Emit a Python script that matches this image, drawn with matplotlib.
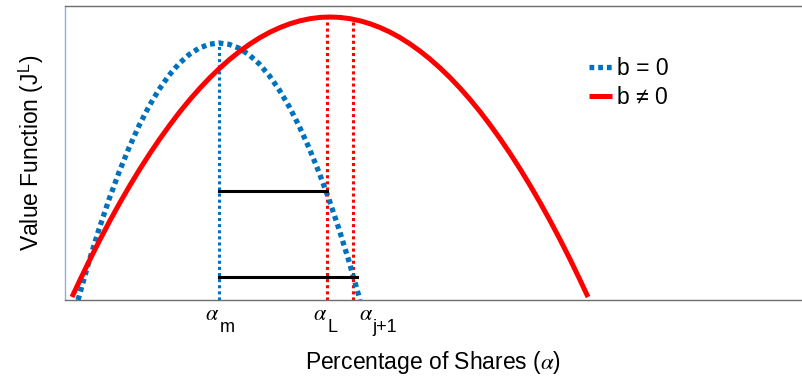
import matplotlib
matplotlib.use('Agg')
import matplotlib.pyplot as plt

plt.rcParams['font.family'] = ['Liberation Sans', 'DejaVu Sans']
plt.rcParams['mathtext.fontset'] = 'stix'

# value function, b = 0 (blue dotted)
alpha_b0 = [0.0177, 0.0326, 0.0462, 0.0598, 0.0734, 0.0870, 0.1005, 0.1141, 0.1277, 0.1413, 0.1549,
            0.1685, 0.1821, 0.1957, 0.2092, 0.2228, 0.2364, 0.2500, 0.2636, 0.2772, 0.2908,
            0.3044, 0.3179, 0.3315, 0.3451, 0.3587, 0.3723, 0.3859, 0.4008]
value_b0 = [0.0000, 0.1311, 0.2410, 0.3421, 0.4344, 0.5180, 0.5927, 0.6587, 0.7158, 0.7642, 0.8038,
            0.8345, 0.8565, 0.8697, 0.8741, 0.8697, 0.8565, 0.8345, 0.8038, 0.7642, 0.7158,
            0.6587, 0.5927, 0.5180, 0.4344, 0.3421, 0.2410, 0.1311, 0.0000]

# value function, b != 0 (red solid)
alpha_b1 = [0.0095, 0.0204, 0.0340, 0.0476, 0.0611, 0.0747, 0.0883, 0.1019, 0.1155, 0.1291, 0.1427,
            0.1562, 0.1698, 0.1834, 0.1970, 0.2106, 0.2242, 0.2378, 0.2514, 0.2649, 0.2785,
            0.2921, 0.3057, 0.3193, 0.3329, 0.3465, 0.3600, 0.3736, 0.3872, 0.4008, 0.4144,
            0.4280, 0.4416, 0.4552, 0.4687, 0.4823, 0.4959, 0.5095, 0.5231, 0.5367, 0.5503,
            0.5639, 0.5774, 0.5910, 0.6046, 0.6182, 0.6318, 0.6454, 0.6590, 0.6726, 0.6862,
            0.6997, 0.7106]
value_b1 = [0.0102, 0.0684, 0.1385, 0.2057, 0.2701, 0.3316, 0.3903, 0.4461, 0.4990, 0.5491, 0.5963,
            0.6407, 0.6822, 0.7208, 0.7566, 0.7895, 0.8195, 0.8467, 0.8710, 0.8925, 0.9111,
            0.9268, 0.9397, 0.9497, 0.9569, 0.9612, 0.9626, 0.9612, 0.9569, 0.9497, 0.9397,
            0.9268, 0.9111, 0.8925, 0.8710, 0.8467, 0.8195, 0.7895, 0.7566, 0.7208, 0.6822,
            0.6407, 0.5963, 0.5491, 0.4990, 0.4461, 0.3903, 0.3316, 0.2701, 0.2057, 0.1385,
            0.0684, 0.0102]

# marked points on the alpha axis
alpha_m = 0.2092
alpha_L = 0.3560
alpha_j1 = 0.3913
peak_b0 = 0.874
top_L = 0.962
top_j1 = 0.955
level_hi = 0.372
level_lo = 0.079
end_lo = 0.3967

tick_pos = [alpha_m, alpha_L, alpha_j1]
tick_subs = ['m', 'L', 'j+1']
# pixel offsets of the alpha glyph and of its subscript from the tick
alpha_dx = [-14, -14, 6]
sub_dx = [1, 0, 19]

blue = '#0072BD'
red = '#FF0000'

fig = plt.figure(figsize=(8.02, 3.78), dpi=100)
ax = fig.add_axes([65 / 802, 78 / 378, 736 / 802, 294 / 378])

ax.plot(alpha_b0, value_b0, color=blue, lw=3.8, dashes=(0.9, 0.75), label='b = 0', zorder=3)
ax.plot(alpha_b1, value_b1, color=red, lw=3.6, solid_capstyle='butt', label='b \u2260 0', zorder=3)

ax.plot([alpha_m, alpha_m], [0, peak_b0], color=blue, lw=2.2, dashes=(1, 1), zorder=2)
ax.plot([alpha_L, alpha_L], [0, top_L], color=red, lw=2.2, dashes=(1, 1), zorder=2)
ax.plot([alpha_j1, alpha_j1], [0, top_j1], color=red, lw=2.2, dashes=(1, 1), zorder=2)

ax.plot([alpha_m, alpha_L], [level_hi, level_hi], color='black', lw=2.2, zorder=4)
ax.plot([alpha_m, end_lo], [level_lo, level_lo], color='black', lw=2.2, zorder=4)

ax.set_xlim(0, 1)
ax.set_ylim(0, 1)
ax.set_xticks([])
ax.set_yticks([])

for x, sub, da, ds in zip(tick_pos, tick_subs, alpha_dx, sub_dx):
    ax.annotate(r'$\alpha$', xy=(x, 0), xycoords=('data', 'axes fraction'),
                xytext=(da, -20), textcoords='offset pixels', ha='left', va='baseline',
                fontsize=16, annotation_clip=False)
    ax.annotate(sub, xy=(x, 0), xycoords=('data', 'axes fraction'),
                xytext=(ds, -32), textcoords='offset pixels', ha='left', va='baseline',
                fontsize=13, annotation_clip=False)

for s in ['top', 'bottom']:
    ax.spines[s].set_color('#6e6e6e')
    ax.spines[s].set_linewidth(1.0)
ax.spines['left'].set_color('#86b6dd')
ax.spines['left'].set_linewidth(1.0)
ax.spines['right'].set_visible(False)

ax.set_xlabel(r'Percentage of Shares ($\alpha$)', fontsize=16.5, labelpad=35)
ax.set_ylabel(r'Value Function (J$^{\mathregular{L}}$)', fontsize=16.5, labelpad=14)

ax.legend(loc='upper left', bbox_to_anchor=(0.712, 0.826), frameon=False, fontsize=16.5,
          handlelength=1.0, handletextpad=0.2, borderpad=0, borderaxespad=0, labelspacing=0.25)

fig.savefig('out.png', dpi=100)
